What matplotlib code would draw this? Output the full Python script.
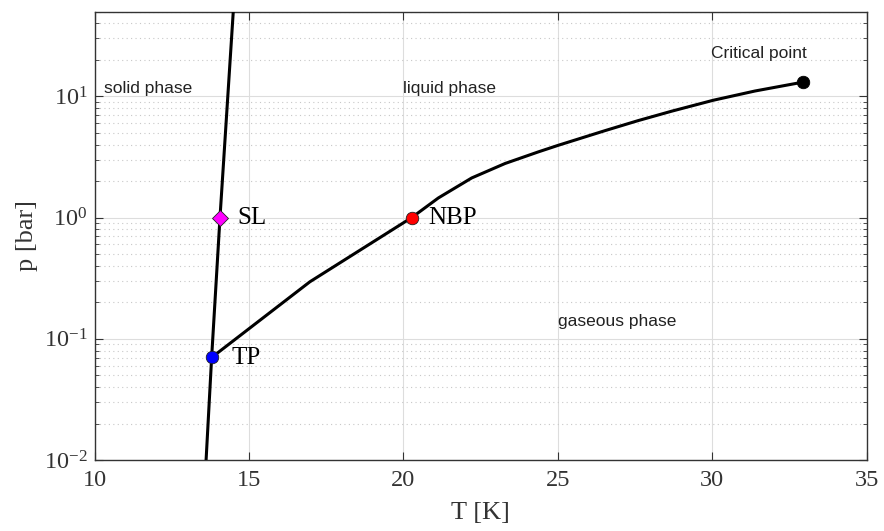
import matplotlib
matplotlib.use('Agg')
import matplotlib.pyplot as plt
from matplotlib.ticker import LogLocator, NullLocator

# melting line (solid / liquid)
T_melt = [13.61, 13.79, 14.06, 14.49]
p_melt = [0.01, 0.0704, 1.0, 50.0]

# vapour pressure line (liquid / gas), triple point -> critical point
T_vap = [13.80, 16.97, 20.27, 21.13, 22.21, 23.29, 24.37, 25.01, 26.53,
         27.60, 28.69, 30.03, 31.38, 32.95]
p_vap = [0.0704, 0.295, 1.0, 1.45, 2.12, 2.79, 3.48, 3.94, 5.21,
         6.30, 7.54, 9.27, 11.05, 13.1]

# special points
T_tp, p_tp = 13.80, 0.0704
T_sl, p_sl = 14.06, 1.0
T_nbp, p_nbp = 20.27, 1.0
T_cp, p_cp = 32.95, 13.1

x_ticks = [10, 15, 20, 25, 30, 35]
y_ticks = [0.01, 0.1, 1, 10]
y_tick_labels = [r'$\mathregular{10^{-2}}$', r'$\mathregular{10^{-1}}$',
                 r'$\mathregular{10^{0}}$', r'$\mathregular{10^{1}}$']

serif = 'Liberation Serif'
sans = 'Liberation Sans'
plt.rcParams['font.family'] = serif
plt.rcParams['mathtext.fontset'] = 'custom'
plt.rcParams['mathtext.rm'] = serif

fig = plt.figure(figsize=(8.84, 5.31), dpi=100)
ax = fig.add_axes([0.107, 0.1337, 0.8735, 0.8446])

ax.set_yscale('log')
ax.set_xlim(10, 35)
ax.set_ylim(0.01, 50)

ax.plot(T_melt, p_melt, color='black', lw=2.2, zorder=3)
ax.plot(T_vap, p_vap, color='black', lw=2.2, zorder=3, solid_joinstyle='round')

ax.plot(T_tp, p_tp, 'o', ms=9, mfc='blue', mec='#202020', mew=0.6, zorder=4)
ax.plot(T_sl, p_sl, 'D', ms=8, mfc='magenta', mec='#202020', mew=0.6, zorder=4)
ax.plot(T_nbp, p_nbp, 'o', ms=9, mfc='red', mec='#202020', mew=0.6, zorder=4)
ax.plot(T_cp, p_cp, 'o', ms=9, mfc='black', mec='black', mew=0.6, zorder=4)

# point labels
ax.text(14.44, 0.069, 'TP', family=serif, fontsize=18, va='center', ha='left')
ax.text(14.62, 1.0, 'SL', family=serif, fontsize=18, va='center', ha='left')
ax.text(20.8, 1.0, 'NBP', family=serif, fontsize=18, va='center', ha='left')

# phase labels
ax.text(10.3, 11.7, 'solid phase', family=sans, fontsize=12.5, va='center', ha='left', color='#222222')
ax.text(20.0, 11.7, 'liquid phase', family=sans, fontsize=12.5, va='center', ha='left', color='#222222')
ax.text(29.95, 22.6, 'Critical point', family=sans, fontsize=12.5, va='center', ha='left', color='#222222')
ax.text(25.0, 0.14, 'gaseous phase', family=sans, fontsize=12.5, va='center', ha='left', color='#222222')

ax.set_xticks(x_ticks)
ax.set_xticklabels([str(t) for t in x_ticks], fontsize=17.5, color='#333333')
ax.set_yticks(y_ticks)
ax.set_yticklabels(y_tick_labels, fontsize=17.5, color='#333333')
ax.yaxis.set_minor_locator(LogLocator(base=10, subs=range(2, 10)))
ax.xaxis.set_minor_locator(NullLocator())

ax.tick_params(which='both', direction='in', top=True, right=True, color='#333333')
ax.tick_params(which='major', length=6, width=0.8)
ax.tick_params(which='minor', length=3, width=0.6)
ax.tick_params(axis='x', which='major', pad=7)
ax.tick_params(axis='y', which='major', pad=5)

ax.grid(True, which='major', color='#dddddd', lw=0.8, ls='-')
ax.grid(True, which='minor', axis='y', color='#c8c8c8', lw=0.8, ls=(0, (1, 3)))
ax.set_axisbelow(True)

for s in ax.spines.values():
    s.set_color('#333333')
    s.set_linewidth(1.0)

ax.set_xlabel('T [K]', fontsize=19, color='#333333', labelpad=8)
ax.set_ylabel('p [bar]', fontsize=19, color='#333333', labelpad=4)

fig.savefig('out.png', dpi=100)
